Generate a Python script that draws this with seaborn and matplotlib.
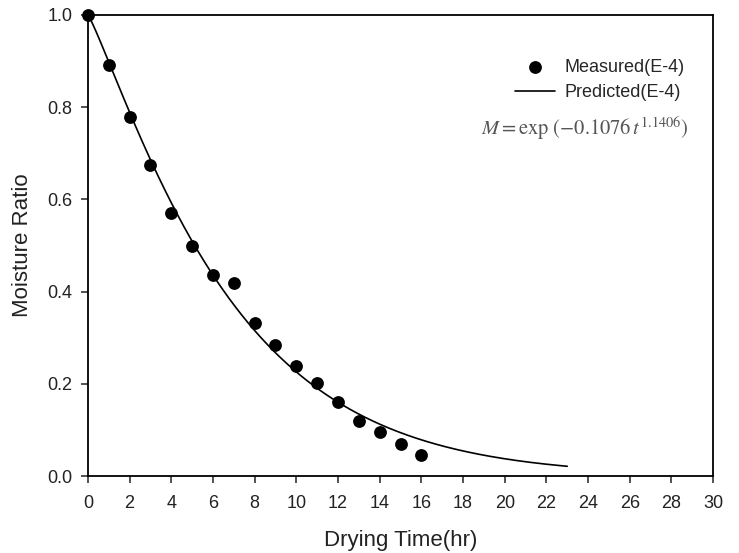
import numpy as np
import pandas as pd
import matplotlib
matplotlib.use("Agg")
import matplotlib.pyplot as plt
import seaborn as sns

# Measured moisture ratio of sample E-4 during drying
drying_time = [0, 1, 2, 3, 4, 5, 6, 7, 8, 9, 10, 11, 12, 13, 14, 15, 16]
moisture_ratio = [1.0, 0.891, 0.779, 0.675, 0.570, 0.500, 0.437, 0.419, 0.333,
                  0.284, 0.239, 0.201, 0.160, 0.120, 0.095, 0.069, 0.046]

# Page-model fit: M = exp(-k t^n)
k_fit = 0.1076
n_fit = 1.1406
t_end = 23

x_ticks = list(range(0, 31, 2))
y_ticks = [0.0, 0.2, 0.4, 0.6, 0.8, 1.0]

sns.set_style("ticks")
plt.rcParams["font.family"] = ["Liberation Sans", "DejaVu Sans"]
plt.rcParams["mathtext.fontset"] = "stix"

measured = pd.DataFrame({"t": drying_time, "MR": moisture_ratio})
t_line = np.linspace(0, t_end, 300)
predicted = pd.DataFrame({"t": t_line, "MR": np.exp(-k_fit * t_line ** n_fit)})

fig = plt.figure(figsize=(7.39, 5.53), dpi=100)
ax = fig.add_axes([0.119, 0.139, 0.846, 0.834])

sns.lineplot(data=predicted, x="t", y="MR", ax=ax, color="black", linewidth=1.2,
             label="Predicted(E-4)", zorder=2)
sns.scatterplot(data=measured, x="t", y="MR", ax=ax, color="black", s=85,
                edgecolor="black", linewidth=0, label="Measured(E-4)", zorder=3,
                clip_on=False)

ax.set_xlim(0, 30)
ax.set_ylim(0, 1.0)
ax.set_xticks(x_ticks)
ax.set_yticks(y_ticks)
ax.set_yticklabels([f"{v:.1f}" for v in y_ticks])
ax.tick_params(direction="out", length=5, width=1.1, labelsize=13, colors="#222222",
               top=False, right=False)
ax.tick_params(axis="x", pad=8.5)
ax.tick_params(axis="y", pad=6)
for sp in ax.spines.values():
    sp.set_linewidth(1.3)
    sp.set_color("black")

ax.set_xlabel("Drying Time(hr)", fontsize=16, color="#222222")
ax.set_ylabel("Moisture Ratio", fontsize=16, color="#222222")
ax.xaxis.label.set_va("center")
ax.yaxis.label.set_va("center")
ax.xaxis.set_label_coords(0.5, -0.139)
ax.yaxis.set_label_coords(-0.104, 0.5)

handles, labels = ax.get_legend_handles_labels()
order = [labels.index("Measured(E-4)"), labels.index("Predicted(E-4)")]
ax.legend([handles[i] for i in order], [labels[i] for i in order],
          loc="upper left", bbox_to_anchor=(0.683, 0.905), borderaxespad=0,
          borderpad=0, frameon=False, fontsize=13, handlelength=2.2,
          handletextpad=0.55, labelspacing=0.45, markerscale=1.0)

ax.text(0.795, 0.755, r"$M = \exp\,(-0.1076\,t^{1.1406})$", transform=ax.transAxes,
        ha="center", va="center", fontsize=14.8, color="#555555")

fig.savefig("out.png", dpi=100)
